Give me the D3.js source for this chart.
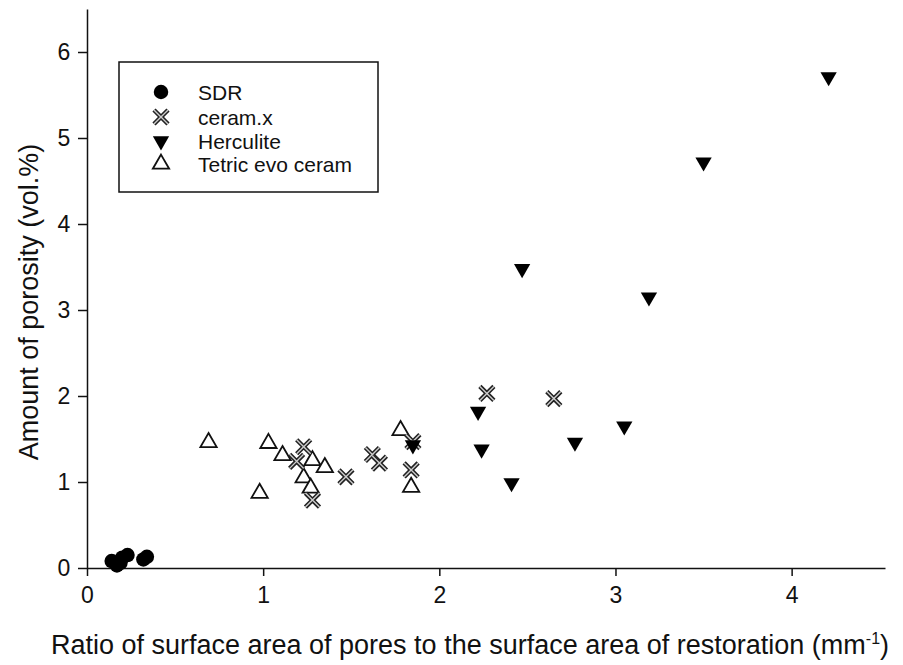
<!DOCTYPE html>
<html>
<head>
<meta charset="utf-8">
<script src="https://cdn.jsdelivr.net/npm/d3@7"></script>
<style>
  body { margin: 0; background: #fff; }
  text { font-family: "Liberation Sans", Arial, sans-serif; fill: #111; }
</style>
</head>
<body>
<svg id="chart" width="903" height="665"></svg>
<script>
// data
var sdr_x = [0.14, 0.17, 0.20, 0.23, 0.32, 0.34, 0.19];
var sdr_y = [0.08, 0.03, 0.12, 0.15, 0.10, 0.13, 0.06];
var ceram_x = [1.19, 1.23, 1.28, 1.47, 1.62, 1.66, 1.85, 1.84, 2.27, 2.65];
var ceram_y = [1.24, 1.41, 0.79, 1.06, 1.32, 1.22, 1.47, 1.14, 2.03, 1.97];
var herc_x = [1.85, 2.22, 2.24, 2.41, 2.47, 2.77, 3.05, 3.19, 3.50, 4.21];
var herc_y = [1.43, 1.82, 1.38, 0.99, 3.48, 1.46, 1.65, 3.15, 4.72, 5.71];
var tetric_x = [0.69, 0.98, 1.03, 1.11, 1.23, 1.27, 1.28, 1.35, 1.78, 1.84];
var tetric_y = [1.46, 0.87, 1.45, 1.31, 1.05, 0.93, 1.25, 1.17, 1.60, 0.94];
var legend_names = ["SDR", "ceram.x", "Herculite", "Tetric evo ceram"];
var x_ticks = [0, 1, 2, 3, 4];
var y_ticks = [0, 1, 2, 3, 4, 5, 6];

var svg = d3.select('#chart');
var pL = 87, pR = 885, pT = 9, pB = 568;

var x = d3.scaleLinear().domain([0, 4.53]).range([pL, pR]);
var y = d3.scaleLinear().domain([0, 6.5]).range([pB, pT]);

// axes
var xAxis = svg.append('g')
  .attr('transform', 'translate(0,' + pB + ')')
  .call(d3.axisBottom(x).tickValues(x_ticks).tickFormat(d3.format('d')).tickSize(8).tickSizeOuter(0));
var yAxis = svg.append('g')
  .attr('transform', 'translate(' + pL + ',0)')
  .call(d3.axisLeft(y).tickValues(y_ticks).tickFormat(d3.format('d')).tickSize(9).tickSizeOuter(0));
[xAxis, yAxis].forEach(function(a) {
  a.selectAll('path, line').attr('stroke', '#111').attr('stroke-width', 1.5);
  a.selectAll('text').style('font-size', '23px').style('font-family', '"Liberation Sans", Arial, sans-serif').attr('fill', '#111');
});
xAxis.selectAll('text').attr('dy', '1.05em');
yAxis.selectAll('text').attr('dx', '-0.2em');

// axis titles
svg.append('text')
  .attr('x', 470).attr('y', 654)
  .attr('text-anchor', 'middle').style('font-size', '27px')
  .html('Ratio of surface area of pores to the surface area of restoration (mm<tspan dy="-10" font-size="16px">-1</tspan><tspan dy="10">)</tspan>');
svg.append('text')
  .attr('transform', 'translate(38,302) rotate(-90)')
  .attr('text-anchor', 'middle').style('font-size', '27px')
  .text('Amount of porosity (vol.%)');

// symbols
var circle = d3.symbol().type(d3.symbolCircle).size(165);
var tri = d3.symbol().type(d3.symbolTriangle).size(115);
var cross = d3.symbol().type(d3.symbolX).size(130);

function drawCross(g) {
  // outlined x: dark stroke with light core
  g.append('path').attr('d', cross).attr('fill', 'none').attr('stroke', '#222').attr('stroke-width', 4.5);
  g.append('path').attr('d', cross).attr('fill', 'none').attr('stroke', '#ccc').attr('stroke-width', 1.4);
}
function drawTri(g) {
  g.append('path').attr('d', tri).attr('fill', '#fff').attr('stroke', '#111').attr('stroke-width', 1.8);
}
function drawInv(g) {
  g.append('path').attr('d', tri).attr('transform', 'rotate(180)').attr('fill', '#000');
}
function drawCircle(g) {
  g.append('path').attr('d', circle).attr('fill', '#000');
}

function series(xs, ys, draw) {
  var pts = xs.map(function(v, i) { return [v, ys[i]]; });
  svg.append('g').selectAll('g').data(pts).enter().append('g')
    .attr('transform', function(d) { return 'translate(' + x(d[0]) + ',' + y(d[1]) + ')'; })
    .each(function() { draw(d3.select(this)); });
}
series(tetric_x, tetric_y, drawTri);
series(ceram_x, ceram_y, drawCross);
series(herc_x, herc_y, drawInv);
series(sdr_x, sdr_y, drawCircle);

// legend
var lg = svg.append('g');
lg.append('rect').attr('x', 119).attr('y', 62).attr('width', 259).attr('height', 130)
  .attr('fill', '#fff').attr('stroke', '#111').attr('stroke-width', 1.5);
var drawers = [drawCircle, drawCross, drawInv, drawTri];
var rowY = [92, 117, 141, 164];
legend_names.forEach(function(name, i) {
  var g = lg.append('g').attr('transform', 'translate(161,' + rowY[i] + ')');
  drawers[i](g);
  lg.append('text').attr('x', 198).attr('y', rowY[i]).attr('dy', '0.36em')
    .style('font-size', '21px').text(name);
});
</script>
</body>
</html>
